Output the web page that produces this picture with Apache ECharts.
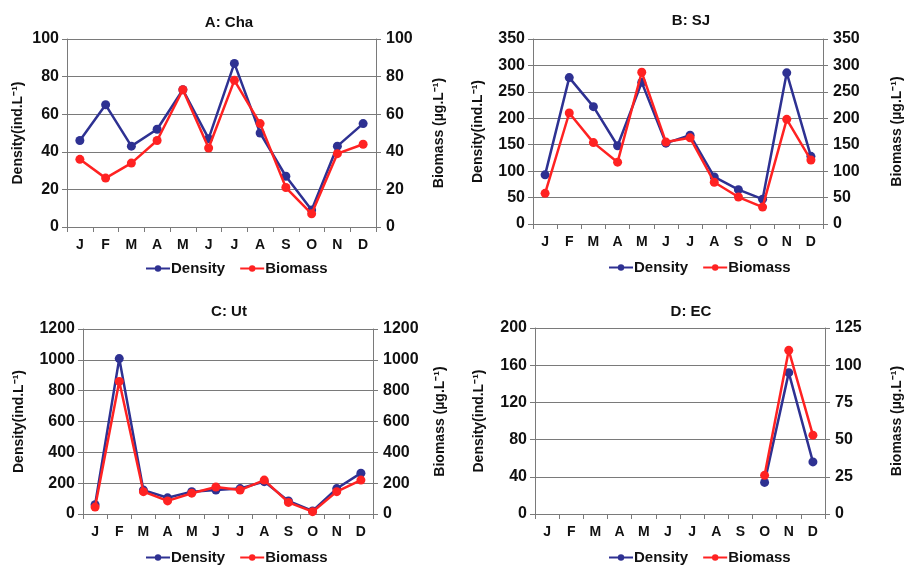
<!DOCTYPE html>
<html>
<head>
<meta charset="utf-8">
<script src="https://cdn.jsdelivr.net/npm/echarts@6/dist/echarts.min.js"></script>
<style>html,body{margin:0;padding:0;background:#fff;}#c{width:905px;height:565px;}</style>
</head>
<body>
<div id="c"></div>
<script>
const months = ['J','F','M','A','M','J','J','A','S','O','N','D'];

const titles = ['A: Cha', 'B: SJ', 'C: Ut', 'D: EC'];

const densityA = [46, 65, 43, 52, 73, 47, 87, 50, 27, 9, 43, 55];
const biomassA = [36, 26, 34, 46, 73, 42, 78, 55, 21, 7, 39, 44];

const densityB = [93, 277, 222, 148, 268, 153, 168, 89, 65, 47, 286, 128];
const biomassB = [58, 210, 154, 117, 287, 155, 163, 79, 51, 32, 198, 121];

const densityC = [60, 1008, 155, 105, 145, 155, 165, 210, 85, 20, 165, 265];
const biomassC = [45, 860, 145, 85, 135, 175, 155, 220, 75, 15, 145, 220];

const densityD = [null, null, null, null, null, null, null, null, null, 34, 152, 56];
const biomassD = [null, null, null, null, null, null, null, null, null, 26, 110, 53];

const leftAxes = [
  {max: 100, interval: 20},
  {max: 350, interval: 50},
  {max: 1200, interval: 200},
  {max: 200, interval: 40}
];
const rightAxes = [
  {max: 100, interval: 20},
  {max: 350, interval: 50},
  {max: 1200, interval: 200},
  {max: 125, interval: 25}
];

const densityName = 'Density(ind.L\u207B\u00B9)';
const biomassName = 'Biomass (\u00B5g.L\u207B\u00B9)';

const FONT = "'Liberation Sans', Arial, sans-serif";
const BLUE = '#2E3192';
const RED = '#FF2222';
const GRAY = '#7A7A7A';

const layouts = [
  {left: 67, top: 39, width: 309, height: 188, lGap: 42, rGap: 56, tx: 224, ty: 10, lx: 140, ly: 256},
  {left: 533, top: 39, width: 302, height: 185, lGap: 48, rGap: 67, tx: 686, ty: 8, lx: 603, ly: 255},
  {left: 83, top: 329, width: 290, height: 185, lGap: 57, rGap: 60, tx: 224, ty: 299, lx: 140, ly: 545},
  {left: 535, top: 328, width: 303, height: 186, lGap: 49, rGap: 65, tx: 686, ty: 299, lx: 603, ly: 545}
];

const densities = [densityA, densityB, densityC, densityD];
const biomasses = [biomassA, biomassB, biomassC, biomassD];

const option = {
  animation: false,
  backgroundColor: '#fff',
  textStyle: {fontFamily: FONT},
  title: [], legend: [], grid: [], xAxis: [], yAxis: [], series: []
};

const plain = v => String(v);

layouts.forEach((L, i) => {
  option.title.push({
    text: titles[i], left: L.tx, top: L.ty, textAlign: 'center',
    textStyle: {fontFamily: FONT, fontWeight: 'bold', fontSize: 15, color: '#111'}
  });
  option.legend.push({
    left: L.lx, top: L.ly, itemWidth: 24, itemHeight: 8, itemGap: 14,
    data: ['Density', 'Biomass'],
    textStyle: {fontFamily: FONT, fontWeight: 'bold', fontSize: 15, color: '#111', padding: [0, 0, 0, -4]}
  });
  option.grid.push({left: L.left, top: L.top, width: L.width, height: L.height, containLabel: false});
  option.xAxis.push({
    type: 'category', gridIndex: i, data: months, boundaryGap: true,
    axisLine: {lineStyle: {color: GRAY, width: 1}},
    axisTick: {show: true, length: 5, lineStyle: {color: GRAY}},
    axisLabel: {fontFamily: FONT, fontWeight: 'bold', fontSize: 14, color: '#111', margin: 11, interval: 0},
    splitLine: {show: false}
  });
  option.yAxis.push({
    type: 'value', gridIndex: i, position: 'left', min: 0,
    max: leftAxes[i].max, interval: leftAxes[i].interval,
    name: densityName, nameLocation: 'middle', nameGap: L.lGap, nameRotate: 90,
    nameTextStyle: {fontFamily: FONT, fontWeight: 'bold', fontSize: 14, color: '#111'},
    axisLine: {show: true, lineStyle: {color: GRAY, width: 1}},
    axisTick: {show: true, length: 5, lineStyle: {color: GRAY}},
    axisLabel: {fontFamily: FONT, fontWeight: 'bold', fontSize: 16, color: '#111', margin: 8, formatter: plain},
    splitLine: {show: true, lineStyle: {color: GRAY, width: 1}}
  });
  option.yAxis.push({
    type: 'value', gridIndex: i, position: 'right', min: 0,
    max: rightAxes[i].max, interval: rightAxes[i].interval,
    name: biomassName, nameLocation: 'middle', nameGap: L.rGap, nameRotate: 90,
    nameTextStyle: {fontFamily: FONT, fontWeight: 'bold', fontSize: 14, color: '#111'},
    axisLine: {show: true, lineStyle: {color: GRAY, width: 1}},
    axisTick: {show: true, length: 5, lineStyle: {color: GRAY}},
    axisLabel: {fontFamily: FONT, fontWeight: 'bold', fontSize: 16, color: '#111', margin: 10, formatter: plain},
    splitLine: {show: false}
  });
  option.series.push({
    name: 'Density', type: 'line', xAxisIndex: i, yAxisIndex: i * 2,
    data: densities[i], symbol: 'circle', symbolSize: 9, connectNulls: false,
    lineStyle: {color: BLUE, width: 2.5}, itemStyle: {color: BLUE}, z: 3
  });
  option.series.push({
    name: 'Biomass', type: 'line', xAxisIndex: i, yAxisIndex: i * 2 + 1,
    data: biomasses[i], symbol: 'circle', symbolSize: 9, connectNulls: false,
    lineStyle: {color: RED, width: 2.5}, itemStyle: {color: RED}, z: 4
  });
});

const chart = echarts.init(document.getElementById('c'), null, {renderer: 'canvas'});
chart.setOption(option);
</script>
</body>
</html>
